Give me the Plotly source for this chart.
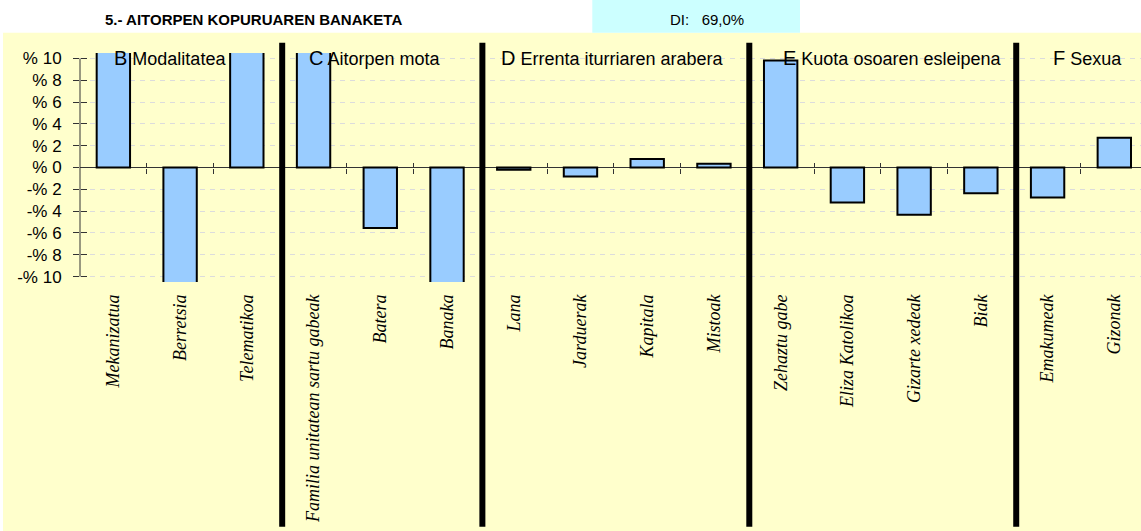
import plotly.graph_objects as go

# ---------------- data ----------------
categories = ["Mekanizatua", "Berretsia", "Telematikoa",
              "Familia unitatean sartu gabeak", "Batera", "Banaka",
              "Lana", "Jarduerak", "Kapitala", "Mistoak",
              "Zehaztu gabe", "Eliza Katolikoa", "Gizarte xedeak", "Biak",
              "Emakumeak", "Gizonak"]
values = [14.6, -34.4, 19.8,
          25.0, -5.55, -19.5,
          -0.2, -0.83, 0.77, 0.34,
          9.82, -3.21, -4.34, -2.35,
          -2.75, 2.72]
group_letters = ["B", "C", "D", "E", "F"]
group_names = ["Modalitatea", "Aitorpen mota", "Errenta iturriaren arabera",
               "Kuota osoaren esleipena", "Sexua"]
group_sizes = [3, 3, 4, 4, 2]
y_tick_vals = [10, 8, 6, 4, 2, 0, -2, -4, -6, -8, -10]
y_tick_text = ["% 10", "% 8", "% 6", "% 4", "% 2", "% 0",
               "-% 2", "-% 4", "-% 6", "-% 8", "-% 10"]
title_text = "5.- AITORPEN KOPURUAREN BANAKETA"
di_text = "DI:&nbsp;&nbsp;&nbsp;69,0%"

# label nudges (pixels) for the section headers
label_shift_px = [-10, -5, -1, 11, 7]

# ---------------- geometry ----------------
W, H = 1141, 531
L, R, T, B = 80, 0, 53, 249
PW, PH = W - L - R, H - T - B
YMIN, YMAX = -10.5, 10.5
XMIN = -0.5
XMAX = XMIN + PW / 66.73

def px_x(px):
    return (px - L) / PW

def px_y(py):
    return (H - B - py) / PH

x_idx = list(range(len(categories)))
bounds = [i + 0.5 for i in range(len(categories) - 1)]

fig = go.Figure()
fig.add_trace(go.Bar(
    x=x_idx, y=values, width=0.5,
    marker=dict(color="#99CCFF", line=dict(color="black", width=2)),
    hoverinfo="skip", showlegend=False))
# helper empty traces so overlay axes are drawn
fig.add_trace(go.Scatter(x=[], y=[], xaxis="x2", yaxis="y", showlegend=False, hoverinfo="skip"))
fig.add_trace(go.Scatter(x=[], y=[], xaxis="x3", yaxis="y", showlegend=False, hoverinfo="skip"))
fig.add_trace(go.Scatter(x=[], y=[], xaxis="x", yaxis="y2", showlegend=False, hoverinfo="skip"))

zero_pos = (0 - YMIN) / (YMAX - YMIN)

shapes = []
# yellow chart area background
shapes.append(dict(type="rect", xref="paper", yref="paper",
                   x0=px_x(3), x1=px_x(W), y0=px_y(H), y1=px_y(32.7),
                   fillcolor="#FFFFCC", line=dict(width=0), layer="below"))
# cyan DI box
shapes.append(dict(type="rect", xref="paper", yref="paper",
                   x0=px_x(592.3), x1=px_x(800), y0=px_y(32.7), y1=px_y(0),
                   fillcolor="#CCFFFF", line=dict(width=0), layer="below"))
# y axis line spanning tick range
shapes.append(dict(type="line", xref="paper", yref="y", x0=0, x1=0,
                   y0=min(y_tick_vals), y1=max(y_tick_vals),
                   line=dict(color="#333333", width=1)))
# thick group separators
pos = 0
for s in group_sizes[:-1]:
    pos += s
    shapes.append(dict(type="line", xref="x", yref="paper",
                       x0=pos - 0.5 + 0.03, x1=pos - 0.5 + 0.03,
                       y0=px_y(526.7), y1=px_y(42.7),
                       line=dict(color="black", width=6)))

annotations = []
annotations.append(dict(text="<b>" + title_text + "</b>", xref="paper", yref="paper",
                        x=px_x(102.7), y=px_y(19), xanchor="left", yanchor="middle",
                        showarrow=False,
                        font=dict(family="Liberation Sans, Arial", size=15, color="black")))
annotations.append(dict(text=di_text, xref="paper", yref="paper",
                        x=px_x(707), y=px_y(19), xanchor="center", yanchor="middle",
                        showarrow=False,
                        font=dict(family="Liberation Sans, Arial", size=15, color="black")))
start = 0
for letter, name, s, sh in zip(group_letters, group_names, group_sizes, label_shift_px):
    center = start - 0.5 + s / 2
    annotations.append(dict(
        text="<span style='font-size:20px'>" + letter + "</span> " + name,
        xref="x", yref="y", x=center, y=10, xanchor="center", yanchor="middle",
        xshift=sh, showarrow=False,
        font=dict(family="Liberation Sans, Arial", size=18, color="black")))
    start += s

fig.update_layout(
    width=W, height=H,
    margin=dict(l=L, r=R, t=T, b=B, pad=0),
    paper_bgcolor="white", plot_bgcolor="rgba(0,0,0,0)",
    showlegend=False, hovermode=False, bargap=0,
    shapes=shapes, annotations=annotations,
    xaxis=dict(range=[XMIN, XMAX], tickvals=x_idx, ticktext=categories,
               tickangle=-90, ticks="", showgrid=False, zeroline=False,
               showline=False, automargin=False, fixedrange=True,
               tickfont=dict(family="Liberation Serif, Times New Roman", size=18,
                             color="black", style="italic"),
               ticklabelstandoff=8),
    xaxis2=dict(range=[XMIN, XMAX], overlaying="x", anchor="free", position=zero_pos,
                tickvals=bounds, ticks="outside", ticklen=5, tickcolor="#333333",
                tickwidth=1, showticklabels=False, showgrid=False, zeroline=False,
                showline=False, side="bottom"),
    xaxis3=dict(range=[XMIN, XMAX], overlaying="x", anchor="free", position=zero_pos,
                tickvals=bounds, ticks="inside", ticklen=5, tickcolor="#333333",
                tickwidth=1, showticklabels=False, showgrid=False, zeroline=False,
                showline=False, side="bottom"),
    yaxis=dict(range=[YMIN, YMAX], tickvals=y_tick_vals, ticktext=y_tick_text,
               ticks="outside", ticklen=6, tickcolor="#333333", tickwidth=1,
               showgrid=True, gridcolor="#DCDCDC", griddash="5px,5px", gridwidth=1,
               zeroline=True, zerolinecolor="#333333", zerolinewidth=1,
               showline=False, automargin=False, fixedrange=True,
               ticklabelstandoff=8,
               tickfont=dict(family="Liberation Sans, Arial", size=17, color="black")),
    yaxis2=dict(range=[YMIN, YMAX], overlaying="y", anchor="free", position=0,
                side="left", tickvals=y_tick_vals, ticks="inside", ticklen=6,
                tickcolor="#333333", tickwidth=1, showticklabels=False,
                showgrid=False, zeroline=False, showline=False),
)

fig.write_html("out.html",
               config={"displayModeBar": False, "staticPlot": True},
               post_script="document.body.style.margin='0';document.body.style.padding='0';")
